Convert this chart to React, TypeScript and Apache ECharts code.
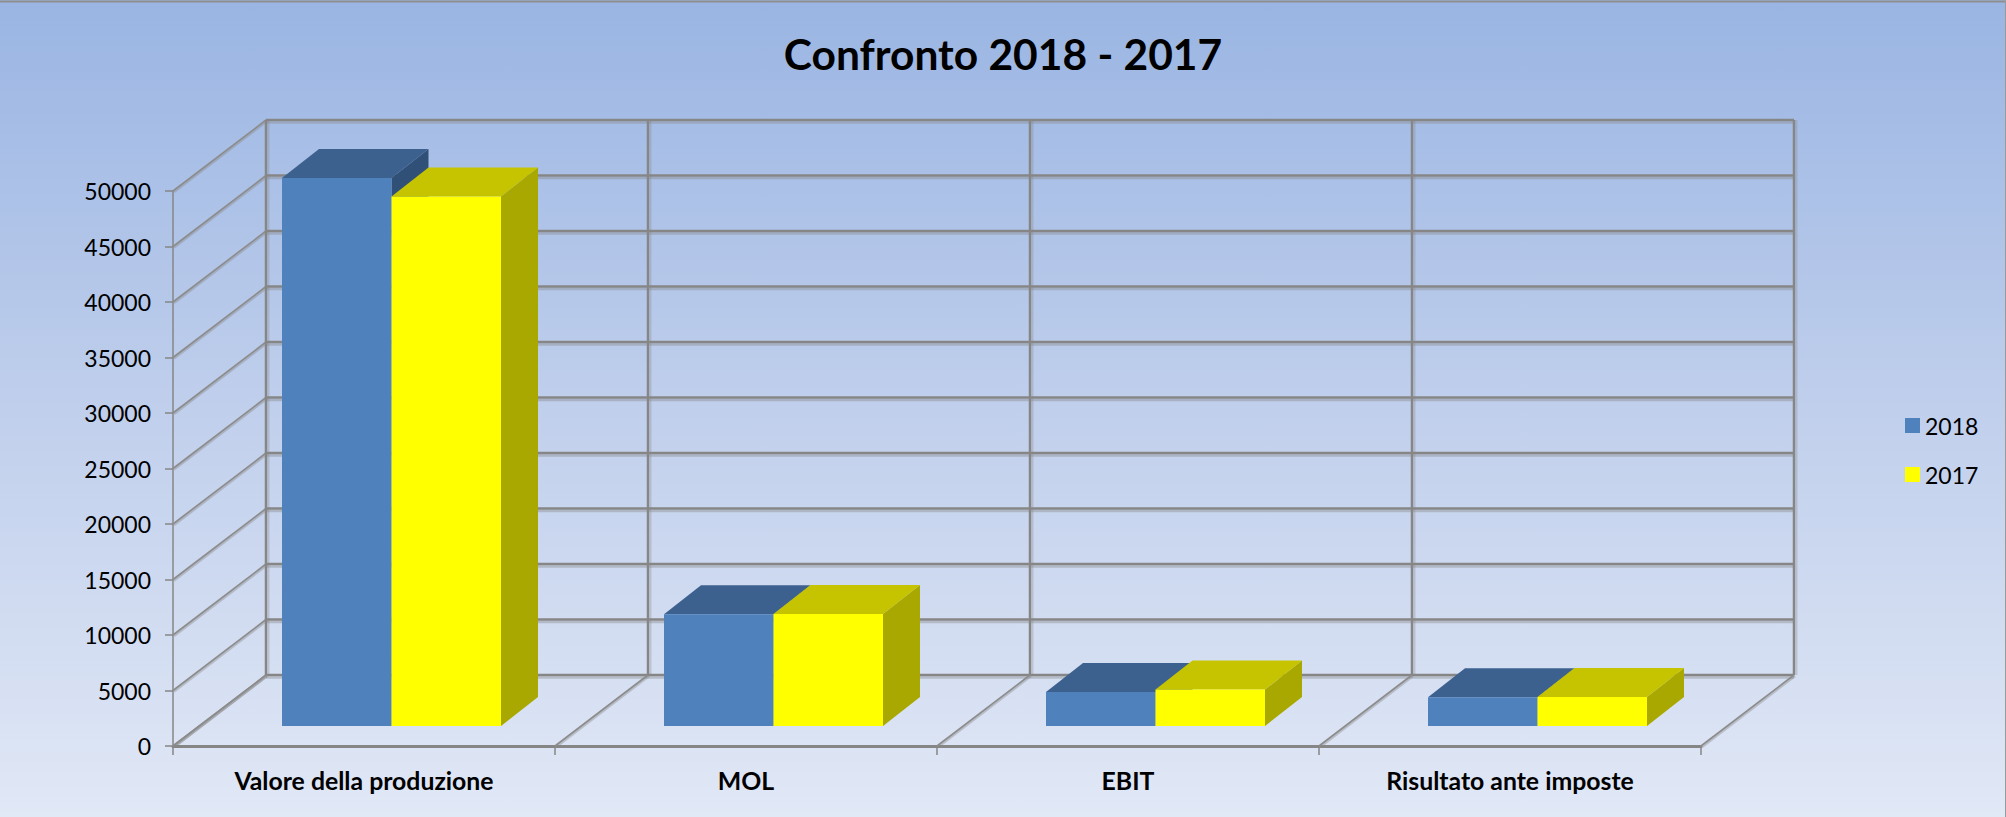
import React, { useEffect, useRef } from "react";
import * as echarts from "echarts";

const titleText = "Confronto 2018 - 2017";
const categories = ["Valore della produzione", "MOL", "EBIT", "Risultato ante imposte"];
const values2018 = [49370, 10070, 3060, 2600];
const values2017 = [47700, 10100, 3280, 2620];
const yTicks = [0, 5000, 10000, 15000, 20000, 25000, 30000, 35000, 40000, 45000, 50000];
const categoryEdges = [0, 1, 2, 3, 4];

const FONT = "Lato";
const GRAY = "#868686";
const WALL_DX = 93;
const WALL_DY = -71;
const BAR_DX = 27.5;
const BAR_DY = -20;
const DEPTH_DX = 37;
const DEPTH_DY = -29;
const BAR_W = 109.5;

const seg = (x1: number, y1: number, x2: number, y2: number, color: string, w: number) => ({
  type: "line",
  shape: { x1, y1, x2, y2 },
  style: { stroke: color, lineWidth: w, fill: null },
  silent: true,
});

const renderHorizontal = (params: any, api: any) => {
  const cs = params.coordSys;
  const y = api.coord([0, api.value(1)])[1];
  const bx = cs.x + WALL_DX;
  const by = y + WALL_DY;
  return {
    type: "group",
    children: [
      seg(bx, by + 2.5, bx + cs.width, by + 2.5, "rgba(134,134,134,0.4)", 2.5),
      seg(bx, by, bx + cs.width, by, GRAY, 2.5),
      seg(cs.x + 1, y + 1, bx + 1, by + 1, "rgba(134,134,134,0.4)", 2.5),
      seg(cs.x, y, bx, by, "#8c8c8c", 1.6),
    ],
  };
};

const renderVertical = (params: any, api: any) => {
  const cs = params.coordSys;
  const x = cs.x + (api.value(1) * cs.width) / categories.length;
  const y0 = cs.y + cs.height;
  return {
    type: "group",
    children: [
      seg(x + 1, y0 + 1, x + WALL_DX + 1, y0 + WALL_DY + 1, "rgba(134,134,134,0.4)", 2.5),
      seg(x, y0, x + WALL_DX, y0 + WALL_DY, "#8c8c8c", 1.6),
      seg(x + WALL_DX + 2.5, y0 + WALL_DY, x + WALL_DX + 2.5, cs.y + WALL_DY, "rgba(134,134,134,0.3)", 2),
      seg(x + WALL_DX, y0 + WALL_DY, x + WALL_DX, cs.y + WALL_DY, GRAY, 2.5),
    ],
  };
};

const poly = (points: number[][], fill: string) => ({
  type: "polygon",
  shape: { points },
  style: { fill, stroke: null },
  silent: true,
});

const renderBox = (side: number, front: string, top: string, right: string) => (_p: any, api: any) => {
  const idx = api.value(0);
  const val = api.value(1);
  const [cx, yVal] = api.coord([idx, val]);
  const [, yZero] = api.coord([idx, 0]);
  const l = cx + BAR_DX + (side < 0 ? -BAR_W : 0);
  const r = l + BAR_W;
  const t = yVal + BAR_DY;
  const b = yZero + BAR_DY;
  return {
    type: "group",
    children: [
      poly([[r, t], [r + DEPTH_DX, t + DEPTH_DY], [r + DEPTH_DX, b + DEPTH_DY], [r, b]], right),
      poly([[l, t], [l + DEPTH_DX, t + DEPTH_DY], [r + DEPTH_DX, t + DEPTH_DY], [r, t]], top),
      poly([[l, t], [r, t], [r, b], [l, b]], front),
    ],
  };
};

export default function App() {
  const ref = useRef<HTMLDivElement>(null);
  useEffect(() => {
    const chart = echarts.init(ref.current!, null, { renderer: "svg" });
    chart.setOption({
      animation: false,
      backgroundColor: new echarts.graphic.LinearGradient(0, 0, 0, 1, [
        { offset: 0, color: "#9AB5E3" },
        { offset: 0.5, color: "#C0CFEC" },
        { offset: 1, color: "#E1E8F6" },
      ]),
      title: {
        text: titleText,
        left: "center",
        top: 27,
        textStyle: { fontFamily: FONT, fontWeight: "bold", fontSize: 42.5, color: "#000" },
      },
      legend: {
        data: ["2018", "2017"],
        orient: "vertical",
        left: 1900,
        top: 409,
        icon: "rect",
        itemWidth: 15,
        itemHeight: 15,
        itemGap: 26,
        textStyle: { fontFamily: FONT, fontSize: 23, color: "#000" },
        selectedMode: false,
      },
      grid: { left: 173, right: 305, top: 191, bottom: 71, containLabel: false },
      xAxis: {
        type: "category",
        data: categories,
        axisLine: { show: true, lineStyle: { color: GRAY, width: 3 } },
        axisTick: { show: true, length: 9, alignWithLabel: false, lineStyle: { color: GRAY, width: 1.5 } },
        axisLabel: { fontFamily: FONT, fontWeight: "bold", fontSize: 24.8, color: "#000", margin: 22, interval: 0 },
        splitLine: { show: false },
      },
      yAxis: {
        type: "value",
        min: 0,
        max: 50000,
        interval: 5000,
        axisLine: { show: true, lineStyle: { color: GRAY, width: 1.5 } },
        axisTick: { show: true, length: 8, lineStyle: { color: GRAY, width: 1.5 } },
        axisLabel: {
          fontFamily: FONT,
          fontSize: 23,
          color: "#000",
          margin: 22,
          padding: [2, 0, 0, 0],
          formatter: (v: number) => String(v),
        },
        splitLine: { show: false },
      },
      graphic: [
        {
          type: "line",
          shape: { x1: 0, y1: 1.5, x2: 2006, y2: 1.5 },
          style: { stroke: "#8f8f8f", lineWidth: 2 },
          silent: true,
        },
        {
          type: "line",
          shape: { x1: 2005.5, y1: 0, x2: 2005.5, y2: 817 },
          style: { stroke: "#9a9a9a", lineWidth: 1 },
          silent: true,
        },
      ],
      series: [
        {
          name: "wallsH",
          type: "custom",
          coordinateSystem: "cartesian2d",
          clip: false,
          z: 1,
          silent: true,
          data: yTicks.map((t) => [0, t]),
          encode: { x: 0, y: 1 },
          renderItem: renderHorizontal,
        },
        {
          name: "wallsV",
          type: "custom",
          coordinateSystem: "cartesian2d",
          clip: false,
          z: 1,
          silent: true,
          data: categoryEdges.map((e) => [0, e]),
          encode: { x: 0 },
          renderItem: renderVertical,
        },
        {
          name: "2018",
          type: "custom",
          coordinateSystem: "cartesian2d",
          clip: false,
          z: 3,
          itemStyle: { color: "#4F81BD" },
          data: values2018.map((v, i) => [i, v]),
          encode: { x: 0, y: 1 },
          renderItem: renderBox(-1, "#4F81BD", "#3D618F", "#305078"),
        },
        {
          name: "2017",
          type: "custom",
          coordinateSystem: "cartesian2d",
          clip: false,
          z: 4,
          itemStyle: { color: "#FFFF00" },
          data: values2017.map((v, i) => [i, v]),
          encode: { x: 0, y: 1 },
          renderItem: renderBox(1, "#FFFF00", "#C6C400", "#A8A800"),
        },
      ],
    });
    return () => chart.dispose();
  }, []);
  return (
    <div
      ref={ref}
      style={{ position: "absolute", left: 0, top: 0, width: 2006, height: 817 }}
    />
  );
}
